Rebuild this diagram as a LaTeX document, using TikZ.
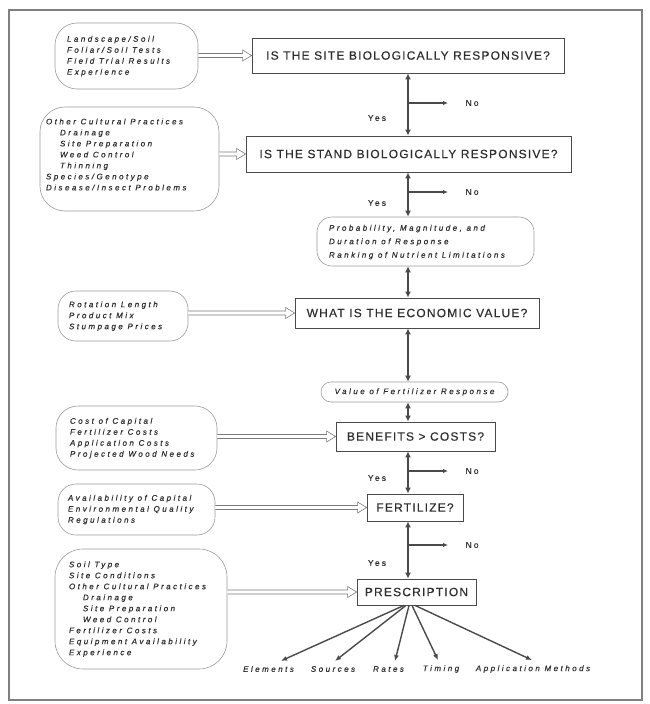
\documentclass[tikz,border=0pt]{standalone}
\usepackage{fontspec}
\setmainfont{Liberation Sans}
\newfontfamily\capfont[LetterSpace=10,FakeBold=0.4]{Liberation Sans}
\newfontfamily\itfont[LetterSpace=31,FakeBold=0.5]{Liberation Sans}
\newfontfamily\ynfont[LetterSpace=25,FakeBold=0.4]{Liberation Sans}
\usetikzlibrary{arrows.meta,calc}
\newcommand\leftlist[2]{\makebox[#1][l]{\begin{tabular}{@{}l@{}}#2\end{tabular}}}
\newcommand\ind{\hspace*{14pt}}
\newcommand\holarrow[2]{%
  \draw[hol] ($(#1.east |- #2.west)+(0,-2)$) -- ($(#2.west)+(-9,-2)$) -- ($(#2.west)+(-9,-5.5)$) -- (#2.west) -- ($(#2.west)+(-9,5.5)$) -- ($(#2.west)+(-9,2)$) -- ($(#1.east |- #2.west)+(0,2)$);}
\definecolor{ink}{HTML}{2E2E2E}
\definecolor{lineg}{HTML}{4A4A4A}
\definecolor{softg}{HTML}{9A9A9A}
\tikzset{
  qbox/.style={draw=lineg, line width=0.8pt, inner sep=0pt, text=ink,
    font=\capfont\fontsize{12}{14}\selectfont},
  inbox/.style={draw=softg, line width=0.6pt, inner ysep=0pt, text=ink,
    font=\itfont\itshape\fontsize{8}{11}\selectfont},
  yn/.style={inner sep=0pt, text=ink, font=\ynfont\fontsize{8.5}{10}\selectfont},
  outlab/.style={inner sep=0pt, text=ink, font=\itfont\itshape\fontsize{8}{10}\selectfont},
  vconn/.style={line width=1.8pt, draw=lineg, {Latex[length=6pt,width=6pt]}-{Latex[length=6pt,width=6pt]}},
  nob/.style={line width=1.1pt, draw=lineg, -{Latex[length=5pt,width=4.5pt]}},
  fan/.style={line width=1.4pt, draw=lineg, -{Latex[length=6pt,width=5pt]}},
  hol/.style={draw=softg!80!black, line width=0.6pt, fill=white},
  framec/.style={draw=black!50, line width=1.1pt}
}
\begin{document}
\begin{tikzpicture}[x=1pt,y=-1pt]
\useasboundingbox (0,0) rectangle (649,704);
\draw[framec] (9,10) rectangle (642,700);
\coordinate (spine) at (408,0);

% main question boxes
\node[qbox, minimum width=312pt, minimum height=35pt] (b1) at (408,55.5) {IS THE SITE BIOLOGICALLY RESPONSIVE?};
\node[qbox, minimum width=325pt, minimum height=36pt] (b2) at (408.5,154) {IS THE STAND BIOLOGICALLY RESPONSIVE?};
\node[inbox, rounded corners=15pt, minimum width=217pt, minimum height=49pt, inner xsep=12pt] (prob) at (425.5,241.5)
  {\fontsize{8}{13.5}\selectfont\leftlist{193pt}{Probability, Magnitude, and\\Duration of Response\\Ranking of Nutrient Limitations}};
\node[qbox, minimum width=244pt, minimum height=30pt] (b3) at (417,313) {WHAT IS THE ECONOMIC VALUE?};
\node[inbox, rounded corners=10pt, minimum width=187pt, minimum height=20pt, inner xsep=0pt] (val) at (414.5,392) {Value of Fertilizer Response};
\node[qbox, minimum width=159pt, minimum height=29pt] (b4) at (415.5,436.5) {BENEFITS > COSTS?};
\node[qbox, minimum width=96pt, minimum height=27pt] (b5) at (415,507.5) {FERTILIZE?};
\node[qbox, minimum width=119pt, minimum height=26pt] (b6) at (416.5,592) {PRESCRIPTION};

% left input boxes
\node[inbox, rounded corners=22pt, minimum width=143pt, minimum height=66pt, inner xsep=12pt] (eA) at (126.5,56)
  {\leftlist{119pt}{Landscape/Soil\\Foliar/Soil Tests\\Field Trial Results\\Experience}};
\node[inbox, rounded corners=25pt, minimum width=179pt, minimum height=104pt, inner xsep=6pt] (eB) at (129.5,159)
  {\leftlist{167pt}{Other Cultural Practices\\\ind Drainage\\\ind Site Preparation\\\ind Weed Control\\\ind Thinning\\Species/Genotype\\Disease/Insect Problems\rule[-11pt]{0pt}{0pt}}};
\node[inbox, rounded corners=18pt, minimum width=130pt, minimum height=50pt, inner xsep=11pt] (eC) at (123,316)
  {\leftlist{108pt}{Rotation Length\\Product Mix\\Stumpage Prices}};
\node[inbox, rounded corners=22pt, minimum width=161pt, minimum height=64pt, inner xsep=14pt] (eD) at (136.5,438)
  {\leftlist{133pt}{Cost of Capital\\Fertilizer Costs\\Application Costs\\Projected Wood Needs}};
\node[inbox, rounded corners=18pt, minimum width=157pt, minimum height=51pt, inner xsep=10pt] (eE) at (136.5,509.5)
  {\leftlist{137pt}{Availability of Capital\\Environmental Quality\\Regulations}};
\node[inbox, rounded corners=28pt, minimum width=172pt, minimum height=120pt, inner xsep=14pt] (eF) at (141,609)
  {\leftlist{144pt}{Soil Type\\Site Conditions\\Other Cultural Practices\\\ind Drainage\\\ind Site Preparation\\\ind Weed Control\\Fertilizer Costs\\Equipment Availability\\Experience}};

% hollow input arrows
\holarrow{eA}{b1}
\holarrow{eB}{b2}
\holarrow{eC}{b3}
\holarrow{eD}{b4}
\holarrow{eE}{b5}
\holarrow{eF}{b6}

% vertical connectors
\draw[vconn] (b1.south -| spine) -- (b2.north -| spine);
\draw[vconn] (b2.south -| spine) -- (prob.north -| spine);
\draw[vconn] (prob.south -| spine) -- (b3.north -| spine);
\draw[vconn] (b3.south -| spine) -- (val.north -| spine);
\draw[vconn] (val.south -| spine) -- (b4.north -| spine);
\draw[vconn] (b4.south -| spine) -- (b5.north -| spine);
\draw[vconn] (b5.south -| spine) -- (b6.north -| spine);

% yes / no branches
\coordinate (n1) at (408,103);
\coordinate (n2) at (408,192);
\coordinate (n3) at (408,471);
\coordinate (n4) at (408,545);
\draw[nob] (n1) -- ++(40,0) node[yn, anchor=west, xshift=17pt] (no1) {No};
\draw[nob] (n2) -- ++(40,0) node[yn, anchor=west, xshift=17pt] (no2) {No};
\draw[nob] (n3) -- ++(40,0) node[yn, anchor=west, xshift=17pt] (no3) {No};
\draw[nob] (n4) -- ++(40,0) node[yn, anchor=west, xshift=17pt] (no4) {No};
\node[yn] (yes1) at (377,118) {Yes};
\node[yn] (yes2) at (377,203) {Yes};
\node[yn] (yes3) at (377,478) {Yes};
\node[yn] (yes4) at (377,563) {Yes};

% prescription outputs
\node[outlab] (oEl) at (268.5,669) {Elements};
\node[outlab] (oSo) at (333,669) {Sources};
\node[outlab] (oRa) at (388.5,669) {Rates};
\node[outlab] (oTi) at (441,669) {Timing};
\node[outlab] (oAp) at (533,669) {Application Methods};
\draw[fan] ($(b6.south)+(-12.5,0)$) -- ($(oEl.north)+(12.5,-5)$);
\draw[fan] ($(b6.south)+(-10.5,0)$) -- ($(oSo.north)+(2,-5)$);
\draw[fan] ($(b6.south)+(-7.5,0)$) -- ($(oRa.north)+(6.5,-5)$);
\draw[fan] ($(b6.south)+(-4.5,0)$) -- ($(oTi.north)+(-3,-5)$);
\draw[fan] ($(b6.south)+(-1.5,0)$) -- ($(oAp.north)+(-1,-5)$);
\end{tikzpicture}
\end{document}
